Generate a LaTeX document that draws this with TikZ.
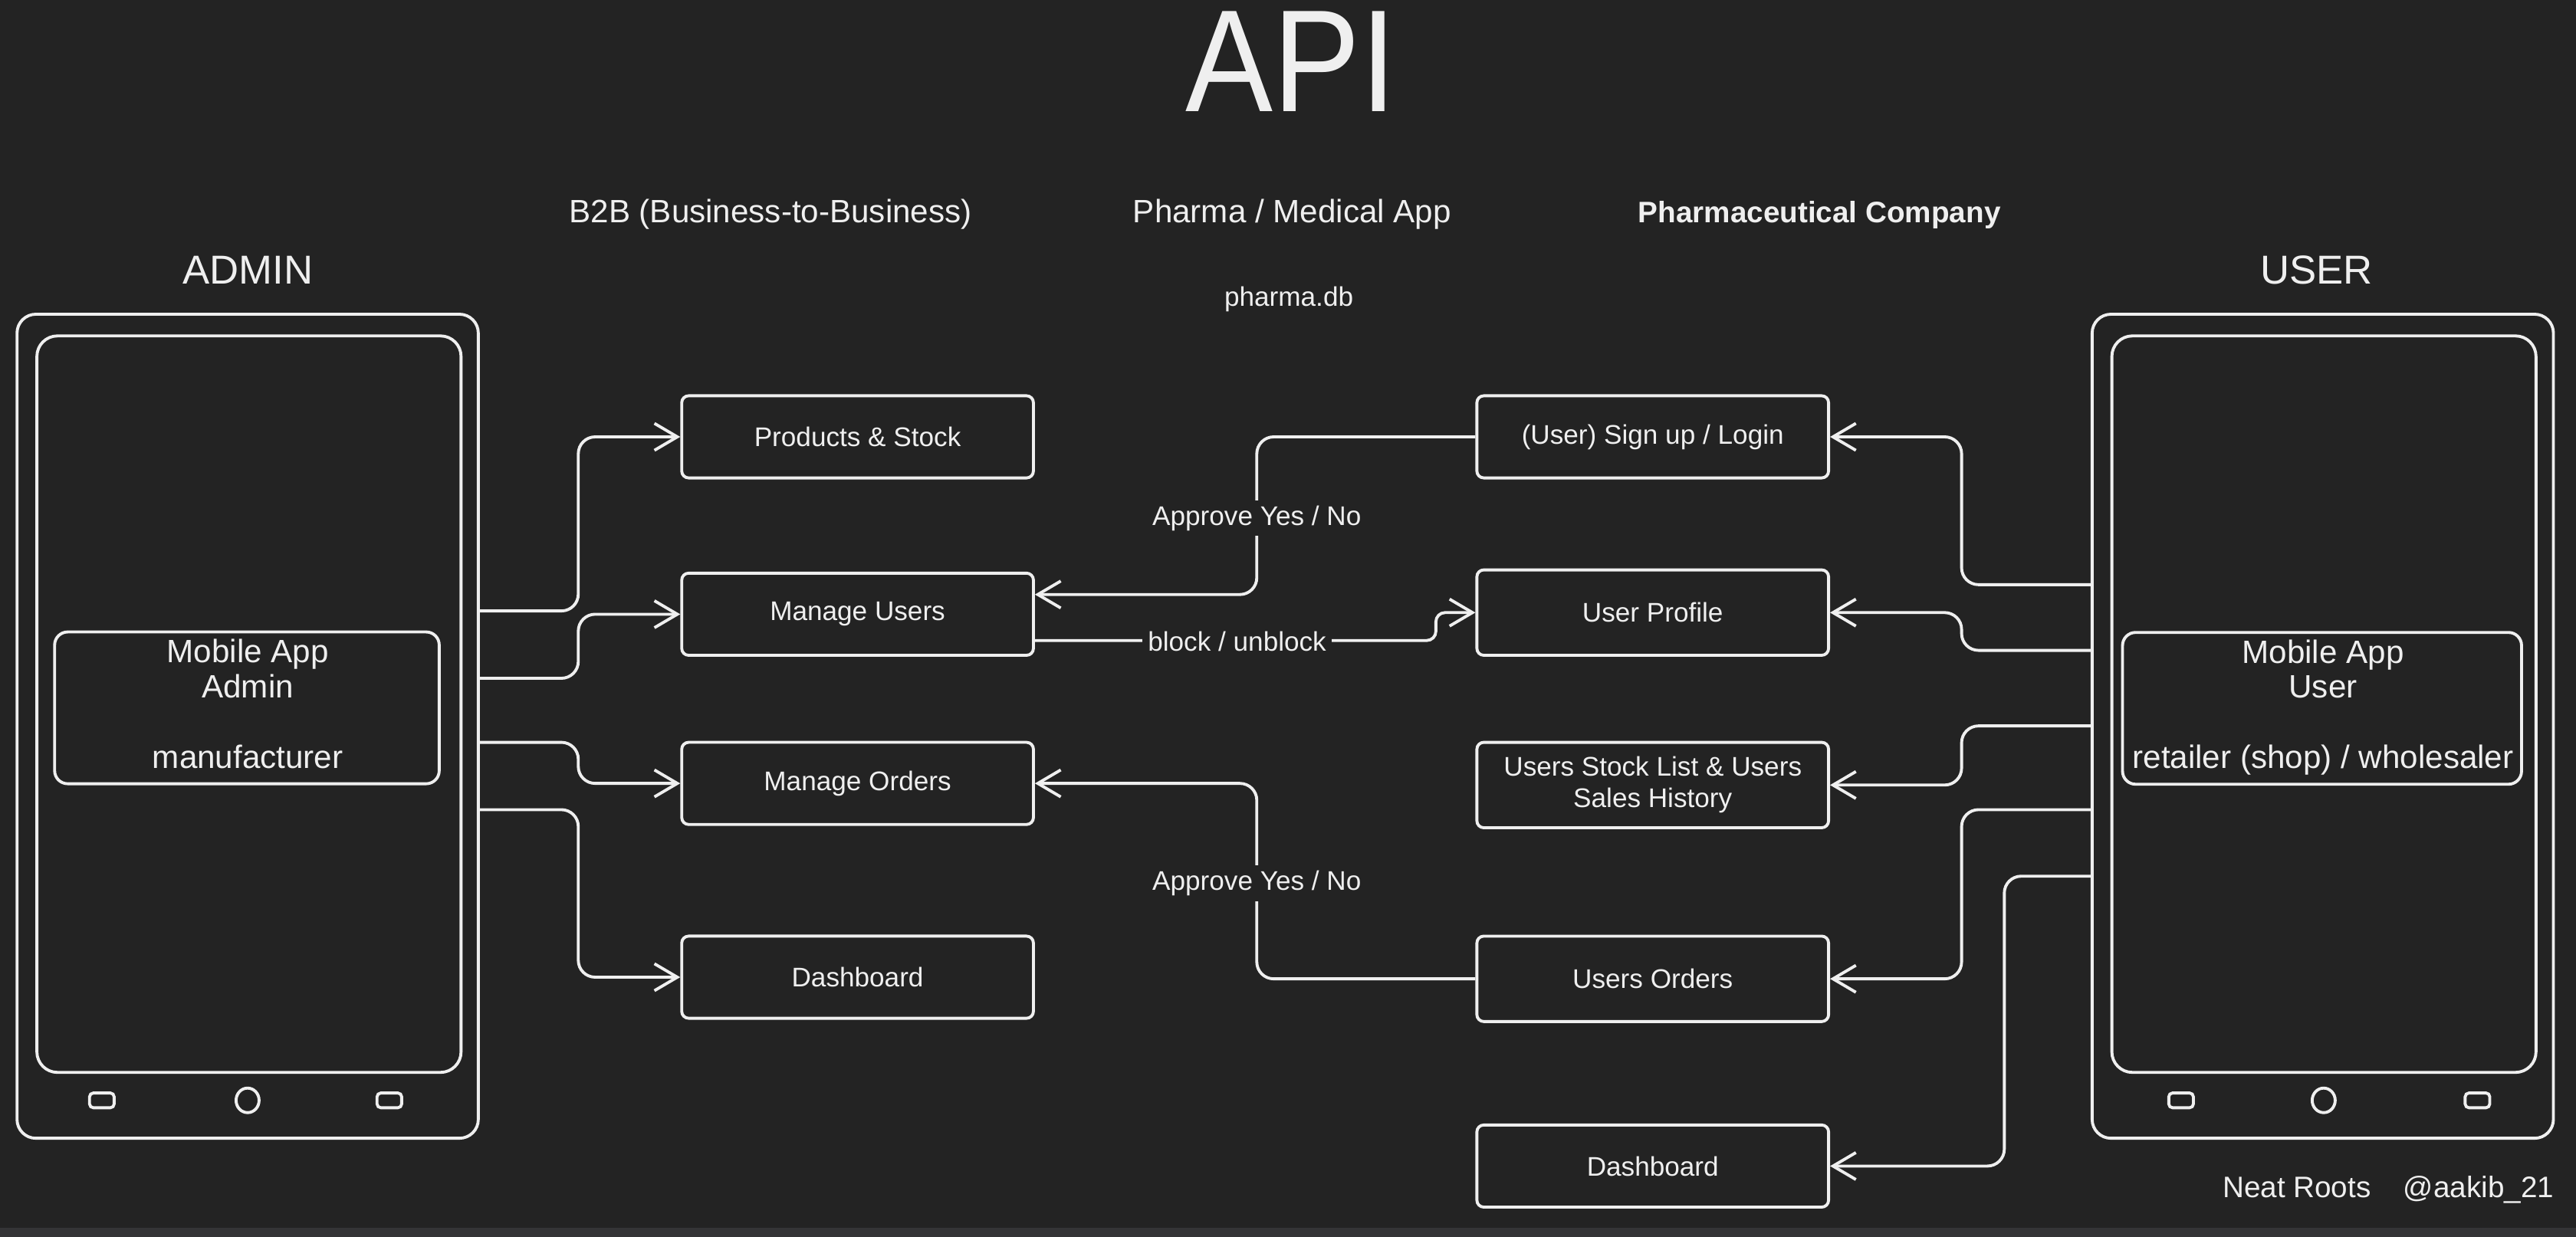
\documentclass[tikz,border=0pt]{standalone}
\usepackage{fontspec}
\setmainfont{Liberation Sans}
\usetikzlibrary{arrows.meta,calc,shapes.geometric}
\definecolor{bg}{HTML}{232323}
\definecolor{strip}{HTML}{343436}
\definecolor{ink}{HTML}{EFEFEF}
\begin{document}
\begin{tikzpicture}[x=0.02143cm,y=-0.02143cm, line width=1.1pt,
  every node/.style={text=ink},
  box/.style={draw=ink, rounded corners=0.09cm, minimum width=4.586cm, minimum height=1.0715cm, inner sep=0pt, align=center, font=\fontsize{10}{11.6}\selectfont},
  tallbox/.style={box, minimum height=1.114cm},
  conn/.style={draw=ink, rounded corners=0.22cm, -{Straight Barb[length=8.5pt,width=10pt]}},
  lbl/.style={fill=bg, inner sep=2pt, font=\fontsize{10}{12}\selectfont},
  head/.style={anchor=base, font=\fontsize{12}{14}\selectfont},
  side/.style={anchor=base, font=\fontsize{15}{18}\selectfont},
  outerphone/.style={draw=ink, rounded corners=0.246cm, minimum width=6.015cm, minimum height=10.749cm, inner sep=0pt},
  screen/.style={draw=ink, rounded corners=0.268cm, minimum width=5.531cm, minimum height=9.607cm, inner sep=0pt},
  appbox/.style={draw=ink, rounded corners=0.17cm, minimum height=1.98cm, inner sep=0pt},
  apptext/.style={align=center, inner sep=0pt, font=\fontsize{12}{13}\selectfont},
  btn/.style={draw=ink, rounded corners=0.05cm, minimum width=0.321cm, minimum height=0.193cm, inner sep=0pt},
  knob/.style={draw=ink, ellipse, minimum width=0.30cm, minimum height=0.32cm, inner sep=0pt}
]
\useasboundingbox (0,0) rectangle (1568,753.15);
\fill[bg] (0,0) rectangle (1568,753.15);
\fill[strip] (0,747.4) rectangle (1568,753.15);

% titles
\node[anchor=base, font=\fontsize{54}{60}\selectfont] (title) at (786,68) {\scalebox{0.9}[1]{API}};
\node[head] (b2b) at (469,135.4) {B2B (Business-to-Business)};
\node[head] (pma) at (786.5,135.4) {Pharma / Medical App};
\node[head, font=\fontsize{11}{14}\selectfont\bfseries] (pco) at (1107.5,135.4) {Pharmaceutical Company};
\node[anchor=base, font=\fontsize{10}{12}\selectfont] (pdb) at (784.5,186.5) {pharma.db};
\node[side] (admin) at (151,173) {ADMIN};
\node[side] (user) at (1410,173) {USER};

% admin phone
\node[outerphone] (aphone) at (150.75,442.2) {};
\node[screen] (ascreen) at (151.55,428.75) {};
\node[appbox, minimum width=5.015cm] (abox) at (150.3,431) {};
\node[apptext] (aboxt) at (150.8,428.6) {Mobile App\\Admin\\\mbox{}\\manufacturer};
\node[btn] (ab1) at (62,670) {};
\node[knob] (ab2) at (150.7,670) {};
\node[btn] (ab3) at (237,670) {};

% user phone
\node[outerphone] (uphone) at (1413.85,442.2) {};
\node[screen] (uscreen) at (1414.55,428.75) {};
\node[appbox, minimum width=5.203cm] (ubox) at (1413.4,431.3) {};
\node[apptext] (uboxt) at (1414,430.6) {Mobile App\\User\\\mbox{}\\retailer (shop) / wholesaler};
\node[btn] (ub1) at (1327.6,670) {};
\node[knob] (ub2) at (1414.4,670) {};
\node[btn] (ub3) at (1508,670) {};

% admin boxes
\node[box] (ps) at (522,266) {Products \& Stock};
\node[box] (mu) at (522,374) {Manage Users};
\node[box] (mo) at (522,477) {Manage Orders};
\node[box] (db1) at (522,595) {Dashboard};

% user boxes
\node[box] (su) at (1006,266) {(User) Sign up / Login};
\node[tallbox] (up) at (1006,373) {User Profile};
\node[tallbox] (usl) at (1006,478) {Users Stock List \& Users\\Sales History};
\node[tallbox] (uo) at (1006,596) {Users Orders};
\node[box] (db2) at (1006,710) {Dashboard};

% start coordinates on phones
\coordinate (a1) at (291,372);
\coordinate (a2) at (291,413);
\coordinate (a3) at (291,452);
\coordinate (a4) at (291,493);
\coordinate (u1) at (1273.3,356);
\coordinate (u2) at (1273.3,396);
\coordinate (u3) at (1273.3,442);
\coordinate (u4) at (1273.3,493);
\coordinate (u5) at (1273.3,533.5);

% admin connectors
\draw[conn] (a1) -- (352,372) |- (ps.west);
\draw[conn] (a2) -- (352,413) |- (mu.west);
\draw[conn] (a3) -- (352,452) |- (mo.west);
\draw[conn] (a4) -- (352,493) |- (db1.west);

% user connectors
\draw[conn] (u1) -- (1194,356) |- (su.east);
\draw[conn] (u2) -- (1194,396) |- (up.east);
\draw[conn] (u3) -- (1194,442) |- (usl.east);
\draw[conn] (u4) -- (1194,493) |- (uo.east);
\draw[conn] (u5) -- (1220,533.5) |- (db2.east);

% middle connectors
\draw[conn] (su.west) -- (765,266) |- ($(mu.east)+(0,-12)$);
\node[lbl] (l1) at (765,315.5) {Approve Yes / No};
\draw[conn, rounded corners=0.12cm] ($(mu.east)+(0,16)$) -- (874,390) |- (up.west);
\node[lbl] (l2) at (753,390.5) {block / unblock};
\draw[conn] (uo.west) -- (765,596) |- (mo.east);
\node[lbl] (l3) at (765,538) {Approve Yes / No};

% footer
\node[anchor=base west, inner sep=0pt, font=\fontsize{11}{13}\selectfont] (nr) at (1352,729) {Neat Roots};
\node[anchor=base west, inner sep=0pt, font=\fontsize{11}{13}\selectfont] (ak) at (1462,729) {@aakib\_21};
\end{tikzpicture}
\end{document}
